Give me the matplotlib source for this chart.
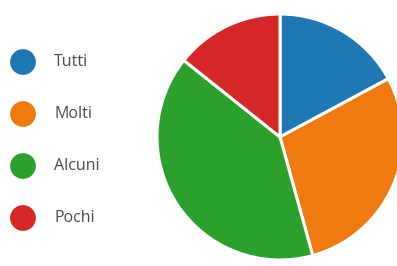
import matplotlib
matplotlib.use("Agg")
import matplotlib.pyplot as plt

categories = ["Tutti", "Molti", "Alcuni", "Pochi"]
values = [6, 10, 14, 5]
colors = ["#1f77b4", "#ef7a10", "#2ca02c", "#d62728"]

W, H = 397, 266
fig = plt.figure(figsize=(W / 100, H / 100), dpi=100)
fig.patch.set_facecolor("white")

# pie axes
cx, cy, r = 280, 137, 123
ax = fig.add_axes([(cx - r) / W, (H - cy - r) / H, 2 * r / W, 2 * r / H])
ax.pie(values, colors=colors, startangle=90, counterclock=False, radius=1,
       wedgeprops=dict(edgecolor="white", linewidth=2.2))
ax.set_xlim(-1.0, 1.0)
ax.set_ylim(-1.0, 1.0)
ax.set_aspect("auto")
ax.axis("off")

# legend
lax = fig.add_axes([0, 0, 1, 1])
lax.set_xlim(0, W)
lax.set_ylim(H, 0)
lax.axis("off")
y0, dy = 62, 52
for i, (c, col) in enumerate(zip(categories, colors)):
    y = y0 + i * dy
    lax.scatter([23], [y], s=25 ** 2 * 0.55, color=col, edgecolors="none")
    lax.text(54, y, c, fontsize=11.5, family="Open Sans", color="#4a4a4a",
             va="center", ha="left")

fig.savefig("out.png", dpi=100, facecolor="white")
